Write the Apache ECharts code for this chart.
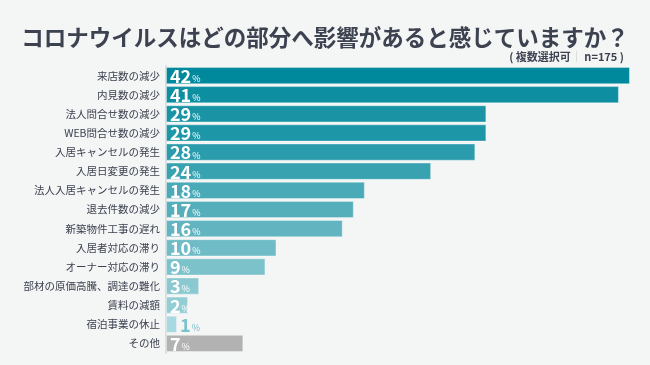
<!DOCTYPE html>
<html><head><meta charset="utf-8">
<script src="https://cdn.jsdelivr.net/npm/echarts@6/dist/echarts.min.js"></script>
<style>html,body{margin:0;padding:0;background:#f4f5f5;}#c{width:650px;height:365px;}</style>
</head><body><div id="c"></div>
<script>
const titleText = 'コロナウイルスはどの部分へ影響があると感じていますか？';
const subtitleText = '( 複数選択可';
const subtitleN = 'n=175 )';
const categories = ['来店数の減少','内見数の減少','法人問合せ数の減少','WEB問合せ数の減少','入居キャンセルの発生','入居日変更の発生','法人入居キャンセルの発生','退去件数の減少','新築物件工事の遅れ','入居者対応の滞り','オーナー対応の滞り','部材の原価高騰、調達の難化','賃料の減額','宿泊事業の休止','その他'];
const values = [42,41,29,29,28,24,18,17,16,10,9,3,2,1,7];
const palette = ['#00889c','#0e8fa1','#1a94a5','#1d97a7','#2a9cab','#39a2b0','#4aaab8','#55afbb','#62b5c0','#70bcc6','#7cc2cb','#8bc9d1','#94ced5','#a9d9e0','#b2b2b2'];

const font = '"Noto Sans CJK JP","Noto Sans",sans-serif';
const chart = echarts.init(document.getElementById('c'));
const data = values.map((v, i) => {
  const item = { value: v, itemStyle: { color: palette[i] } };
  if (v < 2) {
    item.label = { position: 'right', distance: 3,
      rich: { n: { color: '#7cc2cb' }, p: { color: '#7cc2cb' } } };
  }
  return item;
});
chart.setOption({
  backgroundColor: '#f4f5f5',
  animation: false,
  title: [
    { text: titleText, left: 'center', top: 21,
      textStyle: { fontFamily: font, fontSize: 22.5, fontWeight: 'bold', color: '#3d4250' } },
    { text: '{a|' + subtitleText + '}{s|｜}{a| ' + subtitleN + '}', right: 21, top: 46,
      textStyle: { rich: {
        a: { fontFamily: font, fontSize: 11, fontWeight: 'bold', color: '#3d4250' },
        s: { fontFamily: font, fontSize: 11, color: '#c8cbcc' } } } }
  ],
  grid: { left: 166, right: 9, top: 66, bottom: 12 },
  xAxis: { type: 'value', min: 0, max: 43, show: false },
  yAxis: { type: 'category', data: categories, inverse: true,
    axisLine: { show: true, lineStyle: { color: '#dcdfe0', width: 2 } },
    axisTick: { show: false },
    axisLabel: { margin: 6, fontFamily: font, fontSize: 10.5, color: '#3d4250' } },
  series: [{
    type: 'bar', data: data, barCategoryGap: '10%',
    itemStyle: { borderColor: 'rgba(255,255,255,0.35)', borderWidth: 1 },
    label: { show: true, position: 'insideLeft', distance: 4,
      formatter: '{n|{c}}{p|%}',
      rich: {
        n: { fontFamily: font, fontSize: 18, fontWeight: 'bold', color: '#ffffff', padding: [1,1,0,0] },
        p: { fontFamily: font, fontSize: 9, color: '#ffffff', padding: [6,0,0,0] } } }
  }]
});
</script></body></html>
